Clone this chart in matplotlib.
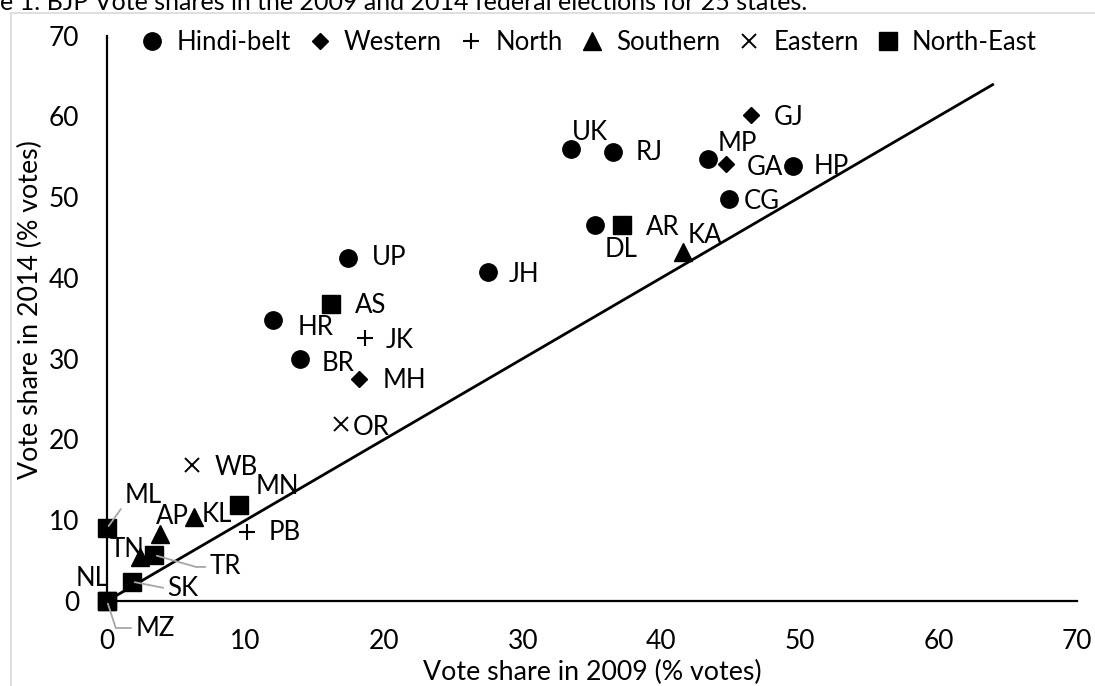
import matplotlib
matplotlib.use("Agg")
import matplotlib.pyplot as plt
from matplotlib.patches import Rectangle
from matplotlib.lines import Line2D

plt.rcParams['font.family'] = ['Lato', 'DejaVu Sans']

# ---------------- data ----------------
hindi_states = ["UK", "RJ", "MP", "HP", "CG", "DL", "JH", "UP", "HR", "BR"]
hindi_2009 = [33.5, 36.5, 43.4, 49.5, 44.9, 35.2, 27.5, 17.4, 12.0, 13.9]
hindi_2014 = [55.9, 55.6, 54.7, 53.8, 49.8, 46.5, 40.7, 42.5, 34.8, 29.9]

western_states = ["GJ", "GA", "MH"]
western_2009 = [46.5, 44.7, 18.2]
western_2014 = [60.1, 54.1, 27.5]

north_states = ["JK", "PB"]
north_2009 = [18.6, 10.1]
north_2014 = [32.5, 8.6]

southern_states = ["KA", "AP", "KL", "TN"]
southern_2009 = [41.6, 3.8, 6.3, 2.4]
southern_2014 = [43.2, 8.3, 10.4, 5.5]

eastern_states = ["OR", "WB"]
eastern_2009 = [16.9, 6.1]
eastern_2014 = [21.9, 16.8]

ne_states = ["AR", "AS", "MN", "ML", "TR", "SK", "NL", "MZ"]
ne_2009 = [37.2, 16.2, 9.5, 0.0, 3.4, 1.8, 0.0, 0.0]
ne_2014 = [46.5, 36.8, 11.9, 9.0, 5.7, 2.4, 0.0, 0.0]

axis_ticks = [0, 10, 20, 30, 40, 50, 60, 70]
ref_line = [0, 64]

# label offsets (pixels) relative to marker, and leader-line styles
label_offsets = {
    "UK": (19, 17), "RJ": (36, -1), "MP": (29, 16), "GA": (38, -4), "GJ": (37, -2),
    "HP": (38, 0), "CG": (33, -3), "DL": (26, -24), "AR": (40, -2), "KA": (21, 17),
    "JH": (36, -2), "UP": (41, 0), "AS": (39, -2), "HR": (42, -8), "JK": (35, -2),
    "BR": (38, -4), "MH": (45, -2), "OR": (30, -3), "WB": (45, -2), "MN": (39, 18),
    "ML": (36, 33), "AP": (13, 17), "KL": (23, 2), "PB": (38, -1), "TN": (-13, 7),
    "TR": (71, -12), "NL": (-15, 23), "SK": (51, -7), "MZ": (48, -27),
}
leaders = {
    "ML": dict(relpos=(0.0, 0.15), connectionstyle="arc3"),
    "TR": dict(relpos=(0.0, 0.5), connectionstyle="angle,angleA=0,angleB=-16,rad=0"),
    "SK": dict(relpos=(0.0, 0.5), connectionstyle="arc3"),
    "MZ": dict(relpos=(0.0, 0.5), connectionstyle="angle,angleA=0,angleB=108,rad=0"),
}

FS = 18.5
W, H = 1095, 686
fig = plt.figure(figsize=(W / 100, H / 100), dpi=100)
ax = fig.add_axes([107 / W, (H - 601) / H, 970 / W, 565.5 / H])

# outer light border and caption clipped at the top edge (as in the reference)
fig.patches.append(Rectangle((11 / W, -0.1), 1.2, (H - 13) / H + 0.1, transform=fig.transFigure,
                             facecolor="none", edgecolor="#D9D9D9", linewidth=1.2))
fig.text(0.0, (H - 10) / H, "e 1: BJP Vote shares in the 2009 and 2014 federal elections for 25 states.",
         fontsize=18, va="baseline", ha="left", color="black")

# reference line y = x
ax.plot(ref_line, ref_line, color="black", linewidth=2.0, zorder=2, solid_capstyle="butt")

series = [
    ("Hindi-belt", hindi_states, hindi_2009, hindi_2014, dict(marker="o", ms=12.5)),
    ("Western", western_states, western_2009, western_2014, dict(marker="D", ms=8.6)),
    ("North", north_states, north_2009, north_2014, dict(marker="+", ms=11, mew=1.5)),
    ("Southern", southern_states, southern_2009, southern_2014, dict(marker="^", ms=12.5)),
    ("Eastern", eastern_states, eastern_2009, eastern_2014, dict(marker="x", ms=10.5, mew=1.4)),
    ("North-East", ne_states, ne_2009, ne_2014, dict(marker="s", ms=12.5)),
]

handles = []
for name, states, xs, ys, st in series:
    ax.plot(xs, ys, linestyle="none", color="black", mfc="black", mec="black",
            zorder=3, clip_on=False, **st)
    handles.append(Line2D([], [], linestyle="none", color="black", mfc="black", mec="black",
                          label=name, **st))
    for s, x, y in zip(states, xs, ys):
        dx, dy = label_offsets[s]
        kw = {}
        if s in leaders:
            ld = leaders[s]
            kw["arrowprops"] = dict(arrowstyle="-", color="#A6A6A6", lw=1.3,
                                    relpos=ld["relpos"], connectionstyle=ld["connectionstyle"],
                                    shrinkA=1, shrinkB=2)
        ax.annotate(s, (x, y), xytext=(dx, dy), textcoords="offset pixels",
                    ha="center", va="center", fontsize=FS, color="black", zorder=4, **kw)

ax.set_xlim(0, 70)
ax.set_ylim(0, 70)
ax.set_xticks(axis_ticks)
ax.set_yticks(axis_ticks)
ax.tick_params(length=0, labelsize=19, pad=20)
for sp in ["top", "right"]:
    ax.spines[sp].set_visible(False)
for sp in ["left", "bottom"]:
    ax.spines[sp].set_linewidth(1.6)
    ax.spines[sp].set_color("black")
ax.patch.set_alpha(0)

ax.set_xlabel("Vote share in 2009 (% votes)", fontsize=19.3, va="center")
ax.xaxis.set_label_coords(0.5, -0.1256)
ax.set_ylabel("Vote share in 2014 (% votes)", fontsize=19.3, va="center")
ax.yaxis.set_label_coords(-0.079, 0.515)

leg = ax.legend(handles=handles, loc="center left", bbox_to_anchor=(0.036, 0.9885), ncol=6,
                frameon=False, fontsize=FS, handlelength=0.8, handletextpad=0.55,
                columnspacing=0.72, borderpad=0, borderaxespad=0)

fig.savefig("out.png", dpi=100)
